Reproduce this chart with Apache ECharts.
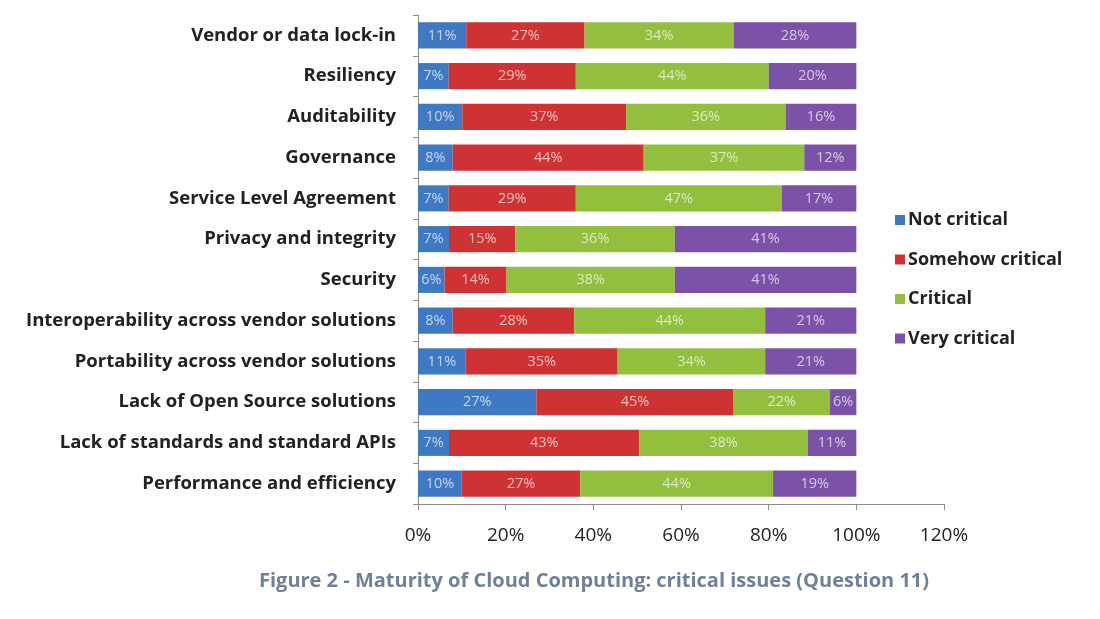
<!DOCTYPE html>
<html>
<head>
<meta charset="utf-8">
<script src="https://cdn.jsdelivr.net/npm/echarts@6/dist/echarts.min.js"></script>
<style>
  html, body { margin: 0; padding: 0; background: #fff; }
  #main { width: 1100px; height: 619px; }
</style>
</head>
<body>
<div id="main"></div>
<script>
// categories, top to bottom
var issues = [
  'Vendor or data lock-in',
  'Resiliency',
  'Auditability',
  'Governance',
  'Service Level Agreement',
  'Privacy and integrity',
  'Security',
  'Interoperability across vendor solutions',
  'Portability across vendor solutions',
  'Lack of Open Source solutions',
  'Lack of standards and standard APIs',
  'Performance and efficiency'
];

var levels = ['Not critical', 'Somehow critical', 'Critical', 'Very critical'];
var colors = ['#3f79c3', '#cf3232', '#92bf3e', '#7b52a8'];

// percentages as printed on the bars
var notCritical      = [11, 7, 10, 8, 7, 7, 6, 8, 11, 27, 7, 10];
var somehowCritical  = [27, 29, 37, 44, 29, 15, 14, 28, 35, 45, 43, 27];
var critical         = [34, 44, 36, 37, 47, 36, 38, 44, 34, 22, 38, 44];
var veryCritical     = [28, 20, 16, 12, 17, 41, 41, 21, 21, 6, 11, 19];

var xTicks = { min: 0, max: 120, interval: 20 };

var raw = [notCritical, somehowCritical, critical, veryCritical];

// 100% stacked: each row is scaled to its total
var totals = issues.map(function (_, i) {
  return raw.reduce(function (s, arr) { return s + arr[i]; }, 0);
});

var FONT = 'Open Sans';

var chart = echarts.init(document.getElementById('main'));

var series = raw.map(function (arr, k) {
  return {
    name: levels[k],
    type: 'bar',
    stack: 'total',
    barWidth: '64%',
    itemStyle: { color: colors[k] },
    label: {
      show: true,
      position: 'inside',
      color: 'rgba(255,255,255,0.68)',
      fontFamily: FONT,
      fontSize: 14.5,
      formatter: function (p) { return arr[p.dataIndex] + '%'; }
    },
    data: arr.map(function (v, i) { return v / totals[i] * 100; })
  };
});

var option = {
  animation: false,
  textStyle: { fontFamily: FONT },
  title: {
    text: 'Figure 2 - Maturity of Cloud Computing: critical issues (Question 11)',
    left: 254,
    top: 566,
    textStyle: { color: '#71809a', fontSize: 20, fontWeight: 'bold', fontFamily: FONT }
  },
  legend: {
    orient: 'vertical',
    left: 890,
    top: 205,
    icon: 'rect',
    itemWidth: 10,
    itemHeight: 10,
    itemGap: 19.5,
    data: levels,
    textStyle: { color: '#222', fontSize: 18, lineHeight: 20, fontWeight: 'bold', fontFamily: FONT, padding: [0, 0, 0, -2] }
  },
  grid: { left: 418, right: 156, top: 15, bottom: 115 },
  xAxis: {
    type: 'value',
    min: xTicks.min,
    max: xTicks.max,
    interval: xTicks.interval,
    axisLine: { show: true, lineStyle: { color: '#8c8c8c' } },
    axisTick: { show: true, length: 6, lineStyle: { color: '#8c8c8c' } },
    splitLine: { show: false },
    axisLabel: { formatter: '{value}%', color: '#222', fontSize: 19, margin: 22, fontFamily: FONT }
  },
  yAxis: {
    type: 'category',
    inverse: true,
    data: issues,
    axisLine: { show: true, lineStyle: { color: '#8c8c8c' } },
    axisTick: { show: true, length: 5, lineStyle: { color: '#8c8c8c' } },
    axisLabel: { color: '#222', fontSize: 18.5, fontWeight: 'bold', margin: 22, fontFamily: FONT }
  },
  series: series
};

chart.setOption(option);
</script>
</body>
</html>
